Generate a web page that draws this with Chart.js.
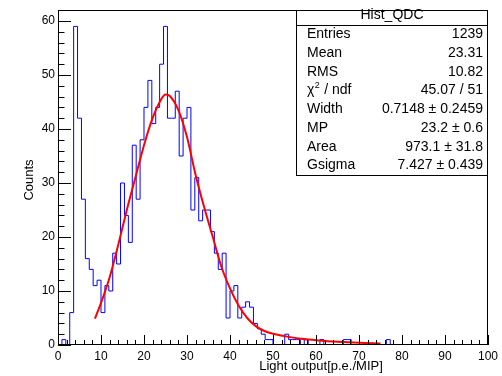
<!DOCTYPE html>
<html>
<head>
<meta charset="utf-8">
<script src="https://cdn.jsdelivr.net/npm/chart.js@4.4.0/dist/chart.umd.min.js"></script>
<style>
  html, body { margin: 0; padding: 0; background: #fff; }
  canvas { display: block; }
</style>
</head>
<body>
<canvas id="chart-area" width="502" height="376"></canvas>
<script>
// histogram: 110 bins over [0, 100]
var xMin = 0, xMax = 100, nBins = 110;
var counts = [
  0, 1, 0, 6, 59, 42, 27, 16, 14, 11,
  12, 6, 11, 10, 17, 15, 30, 24, 19, 37,
  27, 38, 44, 49, 41, 44, 52, 59, 42, 42,
  47, 35, 42, 44, 25, 31, 23, 25, 25, 21,
  17, 14, 17, 5, 10, 11, 5, 7, 8, 7,
  4, 3, 2, 1, 1, 0, 0, 0, 2, 1,
  1, 1, 0, 1, 0, 0, 0, 1, 0, 0,
  0, 0, 0, 1, 1, 0, 0, 0, 0, 0,
  0, 0, 0, 0, 1, 0, 0, 0, 0, 0,
  0, 0, 0, 0, 0, 0, 0, 0, 0, 0,
  0, 0, 0, 0, 0, 0, 0, 0, 0, 0
];

// Landau x Gauss fit
var fitX = [8.6, 10, 12, 14, 16, 18, 20, 22, 24, 25, 26, 28, 30, 32, 34, 36, 38, 40, 42, 44, 46, 48, 50, 53, 56, 60, 65, 70, 75];
var fitY = [4.9, 7.8, 12.5, 18.5, 25, 31, 37, 42, 45.5, 46.4, 46.1, 43.5, 38.5, 31.5, 25.5, 20, 14.5, 10.5, 7.3, 5.0, 3.5, 2.6, 2.1, 1.6, 1.2, 0.9, 0.6, 0.4, 0.3];

var xTicks = [0, 10, 20, 30, 40, 50, 60, 70, 80, 90, 100];
var yTicks = [0, 10, 20, 30, 40, 50, 60];

var statTitle = 'Hist_QDC';
var statNames = ['Entries', 'Mean', 'RMS', 'chi2', 'Width', 'MP', 'Area', 'Gsigma'];
var statValues = ['1239', '23.31', '10.82', '45.07 / 51', '0.7148 \u00b1 0.2459', '23.2 \u00b1 0.6', '973.1 \u00b1 31.8', '7.427 \u00b1 0.439'];

var FONT = '"Liberation Sans", Arial, Helvetica, sans-serif';

var binW = (xMax - xMin) / nBins;
var histPoints = counts.map(function(c, i) { return { x: xMin + i * binW, y: c }; });
histPoints.push({ x: xMax, y: 0 });
var fitPoints = fitX.map(function(x, i) { return { x: x, y: fitY[i] }; });

// frame, inward ticks (ROOT style)
var framePlugin = {
  id: 'frame',
  afterDatasetsDraw: function(chart) {
    var ctx = chart.ctx, a = chart.chartArea;
    var xs = chart.scales.x, ys = chart.scales.y;
    ctx.save();
    ctx.strokeStyle = '#000';
    ctx.lineWidth = 1;
    ctx.strokeRect(Math.round(a.left) + 0.5, Math.round(a.top) + 0.5,
                   Math.round(a.right - a.left) - 1, Math.round(a.bottom - a.top) - 1);
    ctx.beginPath();
    for (var v = 0; v <= 100; v += 2) {
      var px = Math.round(xs.getPixelForValue(v)) + 0.5;
      var len = (v % 10 === 0) ? 10 : 5;
      ctx.moveTo(px, a.bottom);
      ctx.lineTo(px, a.bottom - len);
    }
    for (var w = 0; w <= 62; w += 2) {
      var py = Math.round(ys.getPixelForValue(w)) + 0.5;
      var l2 = (w % 10 === 0) ? 13 : 6.5;
      ctx.moveTo(a.left, py);
      ctx.lineTo(a.left + l2, py);
    }
    ctx.stroke();
    ctx.restore();
  },
  afterDraw: function(chart) {
    var ctx = chart.ctx, a = chart.chartArea;
    ctx.save();
    ctx.fillStyle = '#000';
    ctx.font = '13px ' + FONT;
    // axis titles
    ctx.textAlign = 'center';
    ctx.textBaseline = 'middle';
    ctx.fillText('Light output[p.e./MIP]', 321, 366);
    ctx.translate(29, 180);
    ctx.rotate(-Math.PI / 2);
    ctx.fillText('Counts', 0, 0);
    ctx.restore();

    // stats box
    ctx.save();
    var bx = 296, by = Math.round(a.top), br = Math.round(a.right), bb = 175;
    ctx.fillStyle = '#fff';
    ctx.fillRect(bx, by, br - bx, bb - by);
    ctx.strokeStyle = '#000';
    ctx.lineWidth = 1;
    ctx.strokeRect(bx + 0.5, by + 0.5, br - bx - 1, bb - by);
    ctx.beginPath();
    ctx.moveTo(bx, 25.5);
    ctx.lineTo(br, 25.5);
    ctx.stroke();
    ctx.fillStyle = '#000';
    ctx.font = '14px ' + FONT;
    ctx.textBaseline = 'middle';
    ctx.textAlign = 'center';
    ctx.fillText(statTitle, (bx + br) / 2, 15.5);
    for (var i = 0; i < statNames.length; i++) {
      var yy = 34.5 + i * 18.7;
      ctx.textAlign = 'left';
      if (statNames[i] === 'chi2') {
        ctx.font = '14px ' + FONT;
        ctx.fillText('\u03c7', 307, yy);
        var cw = ctx.measureText('\u03c7').width;
        ctx.font = '9px ' + FONT;
        ctx.fillText('2', 307 + cw + 0.5, yy - 5);
        var sw = ctx.measureText('2').width;
        ctx.font = '14px ' + FONT;
        ctx.fillText(' / ndf', 307 + cw + sw + 1, yy);
      } else {
        ctx.font = '14px ' + FONT;
        ctx.fillText(statNames[i], 307, yy);
      }
      ctx.textAlign = 'right';
      ctx.fillText(statValues[i], 483, yy);
    }
    ctx.restore();
  }
};

var config = {
  type: 'line',
  data: {
    datasets: [{
      label: 'fit',
      data: fitPoints,
      borderColor: 'rgb(255, 0, 0)',
      borderWidth: 2,
      pointRadius: 0,
      fill: false,
      cubicInterpolationMode: 'monotone',
      order: 0
    }, {
      label: 'Hist_QDC',
      data: histPoints,
      borderColor: 'rgb(0, 0, 255)',
      borderWidth: 1,
      pointRadius: 0,
      fill: false,
      stepped: 'before',
      order: 1
    }]
  },
  options: {
    responsive: false,
    animation: false,
    devicePixelRatio: 1,
    layout: { padding: { left: 0, right: 11, top: 5, bottom: 0 } },
    plugins: { legend: { display: false }, tooltip: { enabled: false } },
    scales: {
      x: {
        type: 'linear',
        min: xMin,
        max: xMax,
        afterFit: function(s) { s.height = 31; },
        grid: { display: false, drawTicks: false },
        border: { display: false },
        ticks: {
          stepSize: 10,
          padding: 4,
          color: '#000',
          maxRotation: 0,
          autoSkip: false,
          includeBounds: false,
          font: { family: FONT, size: 12 },
          callback: function(v) { return xTicks.indexOf(v) >= 0 ? String(v) : ''; }
        }
      },
      y: {
        type: 'linear',
        min: 0,
        max: 62,
        afterFit: function(s) { s.width = 58; },
        grid: { display: false, drawTicks: false },
        border: { display: false },
        ticks: {
          stepSize: 10,
          padding: 3,
          color: '#000',
          autoSkip: false,
          includeBounds: false,
          font: { family: FONT, size: 12 },
          callback: function(v) { return yTicks.indexOf(v) >= 0 ? String(v) : ''; }
        }
      }
    }
  },
  plugins: [framePlugin]
};

window.onload = function() {
  var ctx = document.getElementById('chart-area').getContext('2d');
  window.myHist = new Chart(ctx, config);
};
</script>
</body>
</html>
